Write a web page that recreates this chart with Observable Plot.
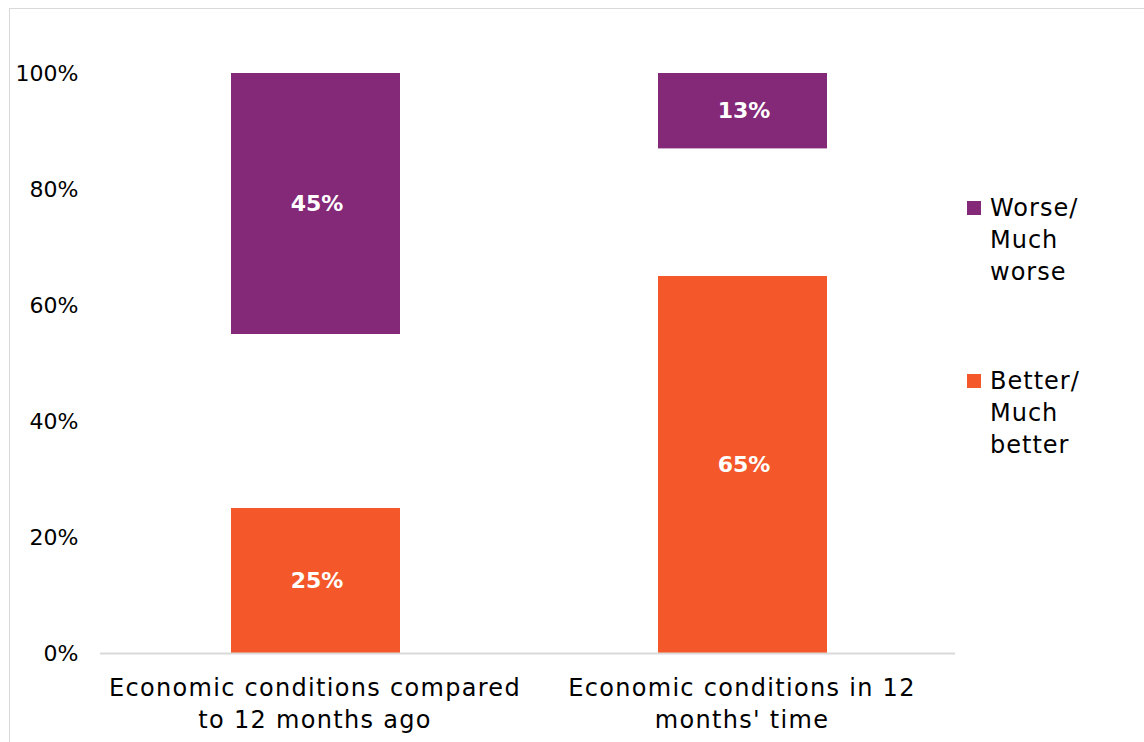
<!DOCTYPE html>
<html>
<head>
<meta charset="utf-8">
<script src="https://cdn.jsdelivr.net/npm/d3@7"></script>
<script src="https://cdn.jsdelivr.net/npm/@observablehq/plot@0.6"></script>
<style>
  html, body { margin: 0; padding: 0; background: #fff; }
  #wrap { position: relative; width: 1144px; height: 742px; overflow: hidden; font-family: "DejaVu Sans", sans-serif; }
  #frame { position: absolute; left: 9px; top: 8px; width: 1150px; height: 760px; border: 1.5px solid #d9d9d9; box-sizing: border-box; }
  #chart { position: absolute; left: 0; top: 0; }
  .leg { position: absolute; left: 967px; font-size: 24px; line-height: 32px; color: #000; letter-spacing: 1px; }
  .sw { position: absolute; left: 0; width: 14px; height: 14px; }
  .lt { position: absolute; left: 23px; white-space: nowrap; }
</style>
</head>
<body>
<div id="wrap">
  <div id="frame"></div>
  <div id="chart"></div>
  <div id="legend"></div>
</div>
<script>
const categories = ["Economic conditions compared\nto 12 months ago", "Economic conditions in 12\nmonths' time"];
const better = [25, 65];
const worse = [45, 13];
const seriesNames = ["Worse/\nMuch\nworse", "Better/\nMuch\nbetter"];
const seriesColors = ["#842878", "#F4582A"];
const yTicks = [0, 20, 40, 60, 80, 100];

const rows = [];
categories.forEach((c, i) => {
  rows.push({cat: c, series: "Better", lo: 0, hi: better[i], v: better[i]});
  rows.push({cat: c, series: "Worse", lo: 100 - worse[i], hi: 100, v: worse[i]});
});

const chart = Plot.plot({
  width: 1144,
  height: 742,
  marginLeft: 100,
  marginRight: 189,
  marginTop: 73,
  marginBottom: 89,
  style: {fontFamily: "DejaVu Sans, sans-serif", background: "transparent", color: "#000"},
  x: {domain: categories, padding: 0, label: null},
  y: {domain: [0, 100], label: null},
  color: {domain: ["Worse", "Better"], range: seriesColors},
  marks: [
    Plot.barY(rows, {x: "cat", y1: "lo", y2: "hi", fill: "series", insetLeft: 130, insetRight: 128}),
    Plot.ruleY([0], {stroke: "#d9d9d9", strokeWidth: 2}),
    Plot.text(rows, {x: "cat", y: d => (d.lo + d.hi) / 2, text: d => d.v + "%", fill: "white", fontWeight: "bold", fontSize: 22, dx: 2}),
    Plot.axisY({ticks: yTicks, tickFormat: d => d + "%", tickSize: 0, tickPadding: 22, fontSize: 22, label: null}),
    Plot.axisX({tickSize: 0, tickPadding: 20, fontSize: 24, lineHeight: 1.33, label: null, ariaLabel: "x-axis"})
  ]
});
d3.select(chart).selectAll("g[aria-label='x-axis tick label'] text, g[aria-label='x-axis'] text").attr("letter-spacing", "1.3px");
document.getElementById("chart").appendChild(chart);

const legend = document.getElementById("legend");
const legTops = [192, 365];
seriesNames.forEach((name, i) => {
  const g = document.createElement("div");
  g.className = "leg";
  g.style.top = legTops[i] + "px";
  const sw = document.createElement("div");
  sw.className = "sw";
  sw.style.top = "9px";
  sw.style.background = seriesColors[i];
  const t = document.createElement("div");
  t.className = "lt";
  t.style.top = "0px";
  t.innerHTML = name.split("\n").join("<br>");
  g.appendChild(sw); g.appendChild(t);
  legend.appendChild(g);
});
</script>
</body>
</html>
